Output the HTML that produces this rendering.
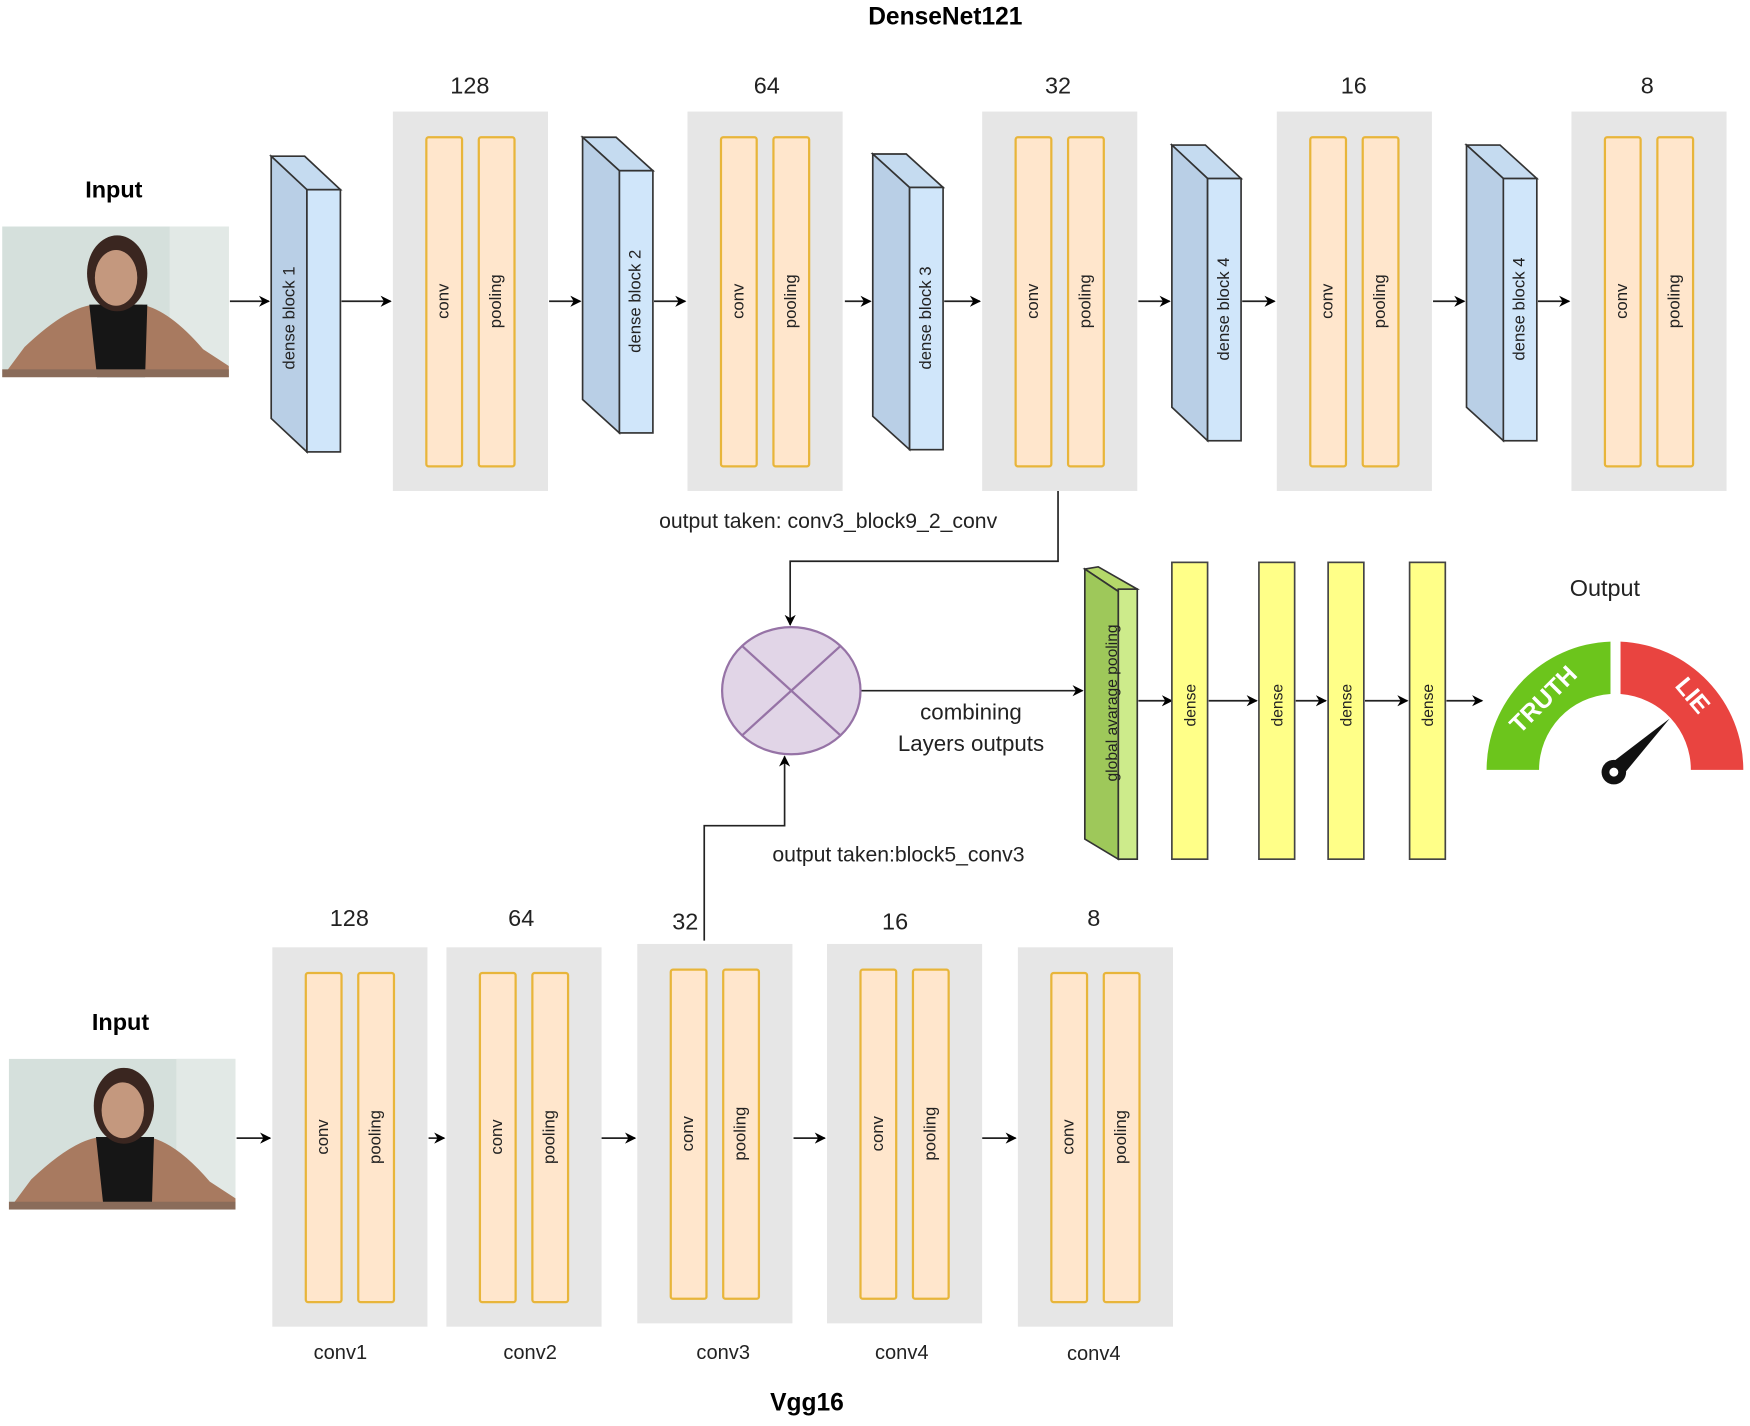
<!DOCTYPE html>
<html><head><meta charset="utf-8"><style>html,body{margin:0;padding:0;background:#fff}svg{display:block}</style></head>
<body>
<svg width="1750" height="1426" viewBox="0 0 1568 1278" preserveAspectRatio="none" xmlns="http://www.w3.org/2000/svg" font-family="Liberation Sans, Arial, sans-serif">
<defs>
<marker id="ar" markerWidth="10" markerHeight="10" refX="9" refY="5" orient="auto" markerUnits="userSpaceOnUse"><path d="M0,0 L10,5 L0,10 L3,5 Z" fill="#000"/></marker>
<g id="photo">
<rect x="0" y="0" width="203" height="135" fill="#d5e0dc"/>
<rect x="150" y="0" width="53" height="135" fill="#e2e9e6"/>
<path d="M0,135 L20,108 Q60,70 85,70 L125,70 Q150,75 180,110 L203,125 L203,135 Z" fill="#a87a60"/>
<path d="M78,70 L130,70 L128,135 L85,135 Z" fill="#161616"/>
<ellipse cx="103" cy="42" rx="27" ry="34" fill="#3a2620"/>
<ellipse cx="102" cy="46" rx="19" ry="25" fill="#c4987e"/>
<rect x="0" y="128" width="203" height="7" fill="#8a6c5a"/>
</g>
<g id="pair">
<rect x="0" y="0" width="139" height="340" fill="#e6e6e6"/>
<rect x="30" y="23" width="32" height="295" rx="2" fill="#ffe6cc" stroke="#e8b53a" stroke-width="2"/>
<rect x="77" y="23" width="32" height="295" rx="2" fill="#ffe6cc" stroke="#e8b53a" stroke-width="2"/>
<text transform="translate(50,170) rotate(-90)" font-size="15" text-anchor="middle" fill="#222">conv</text>
<text transform="translate(97,170) rotate(-90)" font-size="15" text-anchor="middle" fill="#222">pooling</text>
</g>
</defs>

<text x="847" y="22" font-size="22" font-weight="bold" text-anchor="middle">DenseNet121</text>
<text x="102" y="177" font-size="21" font-weight="bold" text-anchor="middle">Input</text>
<use href="#photo" x="2" y="203"/>

<!-- dense blocks -->
<g stroke="#333" stroke-width="1.5">
<g id="db1">
<polygon points="243,140 273,140 305,170 275,170" fill="#c5dbf0"/>
<polygon points="243,140 275,170 275,405 243,375" fill="#b9cfe6"/>
<rect x="275" y="170" width="30" height="235" fill="#d0e6fa"/>
</g>
<polygon points="522,123 552,123 585,153 555,153" fill="#c5dbf0"/>
<polygon points="522,123 555,153 555,388 522,358" fill="#b9cfe6"/>
<rect x="555" y="153" width="30" height="235" fill="#d0e6fa"/>
<polygon points="782,138 812,138 845,168 815,168" fill="#c5dbf0"/>
<polygon points="782,138 815,168 815,403 782,373" fill="#b9cfe6"/>
<rect x="815" y="168" width="30" height="235" fill="#d0e6fa"/>
<polygon points="1050,130 1080,130 1112,160 1082,160" fill="#c5dbf0"/>
<polygon points="1050,130 1082,160 1082,395 1050,365" fill="#b9cfe6"/>
<rect x="1082" y="160" width="30" height="235" fill="#d0e6fa"/>
<polygon points="1314,130 1344,130 1377,160 1347,160" fill="#c5dbf0"/>
<polygon points="1314,130 1347,160 1347,395 1314,365" fill="#b9cfe6"/>
<rect x="1347" y="160" width="30" height="235" fill="#d0e6fa"/>
</g>
<g font-size="15" text-anchor="middle" fill="#222">
<text transform="translate(264,285) rotate(-90)">dense block 1</text>
<text transform="translate(574,270) rotate(-90)">dense block 2</text>
<text transform="translate(834,285) rotate(-90)">dense block 3</text>
<text transform="translate(1101,277) rotate(-90)">dense block 4</text>
<text transform="translate(1366,277) rotate(-90)">dense block 4</text>
</g>

<use href="#pair" x="352" y="100"/>
<use href="#pair" x="616" y="100"/>
<use href="#pair" x="880" y="100"/>
<use href="#pair" x="1144" y="100"/>
<use href="#pair" x="1408" y="100"/>
<g font-size="21" text-anchor="middle" fill="#222">
<text x="421" y="84">128</text><text x="687" y="84">64</text><text x="948" y="84">32</text><text x="1213" y="84">16</text><text x="1476" y="84">8</text>
</g>

<g stroke="#222" stroke-width="1.5" marker-end="url(#ar)" fill="none">
<line x1="206" y1="270" x2="241" y2="270"/><line x1="306" y1="270" x2="350" y2="270"/>
<line x1="492" y1="270" x2="520" y2="270"/><line x1="586" y1="270" x2="614" y2="270"/>
<line x1="757" y1="270" x2="780" y2="270"/><line x1="846" y1="270" x2="878" y2="270"/>
<line x1="1020" y1="270" x2="1048" y2="270"/><line x1="1113" y1="270" x2="1142" y2="270"/>
<line x1="1284" y1="270" x2="1312" y2="270"/><line x1="1378" y1="270" x2="1406" y2="270"/>
<polyline points="948,440 948,503 708,503 708,560"/>
<polyline points="631,843 631,740 703,740 703,678"/>
<line x1="771" y1="619" x2="970" y2="619"/>
<line x1="1020" y1="628" x2="1050" y2="628"/><line x1="1083" y1="628" x2="1126" y2="628"/>
<line x1="1161" y1="628" x2="1188" y2="628"/><line x1="1223" y1="628" x2="1261" y2="628"/>
<line x1="1296" y1="628" x2="1328" y2="628"/>
<line x1="212" y1="1020" x2="242" y2="1020"/><line x1="384" y1="1020" x2="398" y2="1020"/>
<line x1="539" y1="1020" x2="569" y2="1020"/><line x1="711" y1="1020" x2="739" y2="1020"/>
<line x1="880" y1="1020" x2="910" y2="1020"/>
</g>

<text x="742" y="473" font-size="19" text-anchor="middle" fill="#222">output taken: conv3_block9_2_conv</text>
<ellipse cx="709" cy="619" rx="62" ry="57" fill="#e1d5e7" stroke="#9673a6" stroke-width="2"/>
<line x1="665" y1="579" x2="753" y2="659" stroke="#9673a6" stroke-width="2"/>
<line x1="753" y1="579" x2="665" y2="659" stroke="#9673a6" stroke-width="2"/>
<text x="870" y="645" font-size="20" text-anchor="middle" fill="#222">combining</text>
<text x="870" y="673" font-size="20" text-anchor="middle" fill="#222">Layers outputs</text>
<text x="805" y="772" font-size="19" text-anchor="middle" fill="#222">output taken:block5_conv3</text>

<!-- GAP -->
<g stroke="#333" stroke-width="1.5">
<polygon points="972,510 984,508 1019,528 1002,530" fill="#b5d86a"/>
<polygon points="972,510 1002,530 1002,770 972,752" fill="#9ec85a"/>
<rect x="1002" y="528" width="17" height="242" fill="#cdeb8b"/>
</g>
<text transform="translate(1001,630) rotate(-90)" font-size="14" text-anchor="middle" fill="#222">global avarage pooling</text>
<g stroke="#444" stroke-width="1.5" fill="#ffff88">
<rect x="1050" y="504" width="32" height="266"/><rect x="1128" y="504" width="32" height="266"/>
<rect x="1190" y="504" width="32" height="266"/><rect x="1263" y="504" width="32" height="266"/>
</g>
<g font-size="14" text-anchor="middle" fill="#222">
<text transform="translate(1071,632) rotate(-90)">dense</text><text transform="translate(1149,632) rotate(-90)">dense</text>
<text transform="translate(1211,632) rotate(-90)">dense</text><text transform="translate(1284,632) rotate(-90)">dense</text>
</g>

<text x="1438" y="534" font-size="21" text-anchor="middle" fill="#222">Output</text>
<path d="M1332,690 A115,115 0 0 1 1443,575 L1443,622 A68,68 0 0 0 1379,690 Z" fill="#6cc51c"/>
<path d="M1452,575 A115,115 0 0 1 1562,690 L1515,690 A68,68 0 0 0 1452,622 Z" fill="#e94440"/>
<text transform="translate(1388,632) rotate(-45)" font-size="22" font-weight="bold" fill="#fff" text-anchor="middle">TRUTH</text>
<text transform="translate(1511,628) rotate(50)" font-size="22" font-weight="bold" fill="#fff" text-anchor="middle">LIE</text>
<polygon points="1496,644 1453,696 1441,686" fill="#111"/>
<circle cx="1446" cy="692" r="11" fill="#111"/><circle cx="1446" cy="692" r="4" fill="#fff"/>

<!-- VGG -->
<text x="108" y="923" font-size="21" font-weight="bold" text-anchor="middle">Input</text>
<use href="#photo" x="8" y="949"/>
<use href="#pair" x="244" y="849"/>
<use href="#pair" x="400" y="849"/>
<use href="#pair" x="571" y="846"/>
<use href="#pair" x="741" y="846"/>
<use href="#pair" x="912" y="849"/>
<g font-size="21" text-anchor="middle" fill="#222">
<text x="313" y="830">128</text><text x="467" y="830">64</text><text x="614" y="833">32</text><text x="802" y="833">16</text><text x="980" y="830">8</text>
</g>
<g font-size="18" text-anchor="middle" fill="#222">
<text x="305" y="1218">conv1</text><text x="475" y="1218">conv2</text><text x="648" y="1218">conv3</text><text x="808" y="1218">conv4</text><text x="980" y="1219">conv4</text>
</g>
<text x="723" y="1264" font-size="22" font-weight="bold" text-anchor="middle">Vgg16</text>
</svg>
</body></html>
